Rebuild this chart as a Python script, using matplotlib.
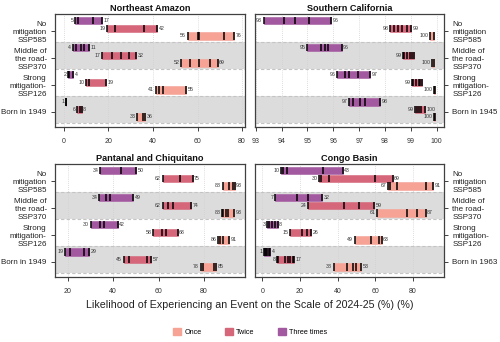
import matplotlib
matplotlib.use('Agg')
import matplotlib.pyplot as plt

plt.rcParams['font.family'] = ['Liberation Sans', 'DejaVu Sans']

regions = ['Northeast Amazon', 'Southern California', 'Pantanal and Chiquitano', 'Congo Basin']
scenarios = ['No\nmitigation\nSSP585', 'Middle of\nthe road-\nSSP370', 'Strong\nmitigation-\nSSP126']
born_labels = ['Born in 1949', 'Born in 1945', 'Born in 1949', 'Born in 1963']
frequencies = ['Once', 'Twice', 'Three times']
colors = ['#F6A396', '#D6677A', '#A3599F']

# each list: rows SSP585, SSP370, SSP126, Born; each row = individual estimates (%)
nea_once = [[55.5, 60, 60.7, 72, 76.3], [52.5, 56.5, 60.5, 65.5, 69], [41.2, 42.5, 44.5, 54.8], [33, 35.5, 36.3]]
nea_twice = [[19.3, 23, 36, 42], [17.2, 21.5, 25.5, 29, 32.3], [9.8, 11.2, 18.8], [6, 7, 7.9]]
nea_three = [[4.9, 6.5, 13, 17], [4, 5.5, 7.5, 9, 11.2], [1.8, 2.4, 4.3], [0.9, 1.1]]

soc_once = [[99.75, 99.9], [99.83, 99.9], [99.88, 99.95], [99.88, 99.95]]
soc_twice = [[98.2, 98.35, 98.52, 98.67, 98.83, 99.0], [98.7, 98.75, 98.85, 98.95, 99.05, 99.13],
             [99.05, 99.1, 99.2, 99.3, 99.35, 99.43], [99.17, 99.22, 99.3, 99.38, 99.53]]
soc_three = [[93.3, 94.1, 94.5, 95.07, 95.9], [95.0, 95.51, 95.69, 95.8, 96.32],
             [96.15, 96.45, 96.62, 96.97, 97.42], [96.6, 96.75, 97.03, 97.22, 97.8]]

pan_once = [[88.2, 91, 92.6, 93.4], [88, 88.5, 89.5, 90.3, 93.1], [86, 87, 88.3, 91], [78.5, 79.3, 84.3, 85.3]]
pan_twice = [[61.7, 69.5, 75], [61.7, 64.2, 66.3, 74.2], [57.6, 61.3, 63.2, 68.4], [44.6, 47, 54.7, 56.8]]
pan_three = [[34.2, 43.3, 50.2], [33.9, 36.8, 38.7, 48.9], [30.1, 34.2, 36.1, 42], [18.9, 20.9, 27.3, 29.3]]

con_once = [[67, 68, 71.5, 86.9, 91], [61.2, 77.1, 82.1, 86.8], [49.1, 57.7, 62.1, 63.4], [37.9, 45.2, 48.4, 49.8, 52.6]]
con_twice = [[30.3, 31.2, 35.5, 60, 69.3], [24.1, 43.6, 51.4, 59.4], [14.6, 21, 23.9, 25.9], [8, 8.5, 11.9, 13.8, 14.7, 16.5, 17]]
con_three = [[10, 10.8, 13, 32.4, 42.8], [6.8, 18.3, 24.5, 31.9], [2.7, 3.6, 5.3, 6.9, 8.1], [0.7, 1.3, 2, 2.7, 3.3, 4.1]]

panel_data = [
    (nea_once, nea_twice, nea_three),
    (soc_once, soc_twice, soc_three),
    (pan_once, pan_twice, pan_three),
    (con_once, con_twice, con_three),
]

xlims = [(-4.0, 81.3), (92.97, 100.28), (14.4, 98.0), (-3.9, 96.6)]
xticks = [[0, 20, 40, 60, 80], [93, 94, 95, 96, 97, 98, 99, 100], [20, 40, 60, 80], [0, 20, 40, 60, 80]]

W, H = 500, 342
fig = plt.figure(figsize=(W / 100, H / 100), dpi=100)

def frac_rect(x0, y0, x1, y1):
    return [x0 / W, 1 - y1 / H, (x1 - x0) / W, (y1 - y0) / H]

rects = [frac_rect(55, 14, 245, 127), frac_rect(255, 14, 444, 127),
         frac_rect(55, 164, 245, 277), frac_rect(255, 164, 444, 277)]

group_y = [4, 3, 2, 1]
offsets = [-0.28, 0.0, 0.28]  # once, twice, three times
bar_h = 0.27
frame_col = '#404040'
txt_col = '#333333'

for i, ax_rect in enumerate(rects):
    ax = fig.add_axes(ax_rect)
    ax.set_xlim(*xlims[i])
    ax.set_ylim(0.35, 4.53)
    # bands
    for g in (3, 1):
        ax.axhspan(g - 0.5, g + 0.5, color='#DCDCDC', zorder=0, lw=0)
    for yb in (0.5, 1.5, 2.5, 3.5):
        ax.axhline(yb, color='#C4C4C4', lw=0.8, ls=(0, (3, 2)), zorder=0.6)
    for xt in xticks[i]:
        ax.axvline(xt, color='#D2D2D2', lw=0.6, ls=(0, (1, 1.5)), zorder=0.5)
    span = xlims[i][1] - xlims[i][0]
    gap = span * 0.008
    for f, series in enumerate(panel_data[i]):
        for r, vals in enumerate(series):
            y = group_y[r] + offsets[f]
            lo, hi = min(vals), max(vals)
            ax.barh(y, hi - lo, left=lo, height=bar_h, color=colors[f],
                    edgecolor=colors[f], lw=0.4, zorder=2)
            for v in vals:
                ax.plot([v, v], [y - bar_h / 2, y + bar_h / 2], color='black',
                        lw=1.1, solid_capstyle='butt', zorder=3)
            ax.text(lo - gap, y, f'{round(lo):d}', ha='right', va='center',
                    fontsize=3.8, color=txt_col, zorder=4)
            if round(hi) != round(lo):
                ax.text(hi + gap, y, f'{round(hi):d}', ha='left', va='center',
                        fontsize=3.8, color=txt_col, zorder=4)
    ax.set_xticks(xticks[i])
    ax.set_xticklabels([str(t) for t in xticks[i]])
    ax.tick_params(axis='x', labelsize=5, colors=frame_col, labelcolor=txt_col,
                   length=3, width=0.7, pad=5)
    labels = scenarios + [born_labels[i]]
    ax.set_yticks([g - 0.09 for g in group_y])
    ax.set_yticklabels(labels)
    if i % 2 == 1:
        ax.yaxis.tick_right()
        ax.tick_params(axis='y', left=False, right=True)
    ax.tick_params(axis='y', labelsize=5.8, colors=frame_col, labelcolor='#222222',
                   length=3, width=0.7, pad=3)
    for s in ax.spines.values():
        s.set_color(frame_col)
        s.set_linewidth(0.9)
    ax.set_title(regions[i], fontsize=6.6, fontweight='bold', pad=2.5, color='#111111')

fig.text(0.5, 1 - 305 / H, 'Likelihood of Experiencing an Event on the Scale of 2024-25 (%) (%)',
         ha='center', va='center', fontsize=7.7, color='#222222')

from matplotlib.patches import Patch
handles = [Patch(facecolor=c, edgecolor=c) for c in colors]
fig.legend(handles, frequencies, loc='center', bbox_to_anchor=(0.5, 1 - 332 / H),
           ncol=3, frameon=False, fontsize=5.2, handlelength=1.2, handleheight=1.2,
           columnspacing=3.2, handletextpad=0.4)

fig.savefig('out.png', dpi=100)
